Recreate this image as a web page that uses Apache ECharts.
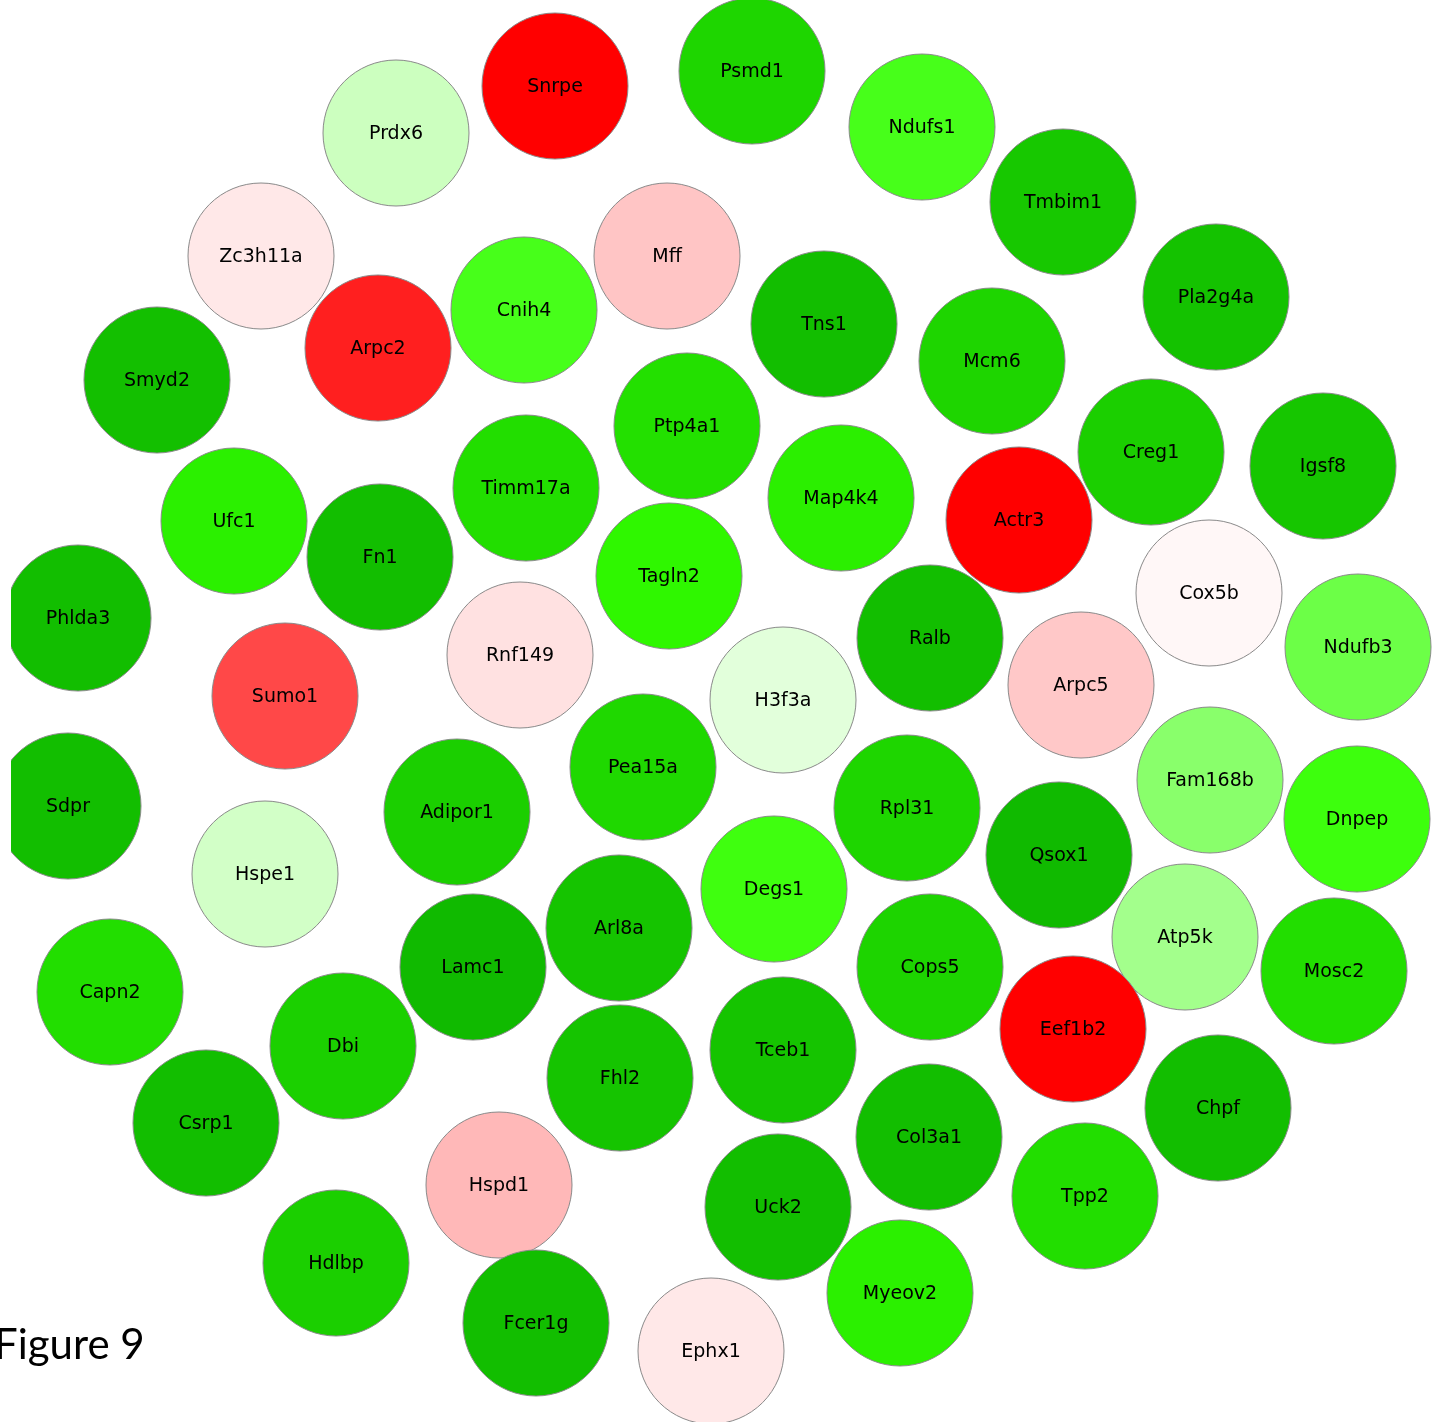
<!DOCTYPE html>
<html>
<head>
<meta charset="utf-8">
<title>Figure 9</title>
<script src="https://cdn.jsdelivr.net/npm/echarts@6/dist/echarts.min.js"></script>
<style>
  html, body { margin: 0; padding: 0; background: #fff; }
  #main { width: 1437px; height: 1422px; }
</style>
</head>
<body>
<div id="main"></div>
<script>
// gene nodes (layout position from the network picture + expression value, red < 0 < green)
var genes = ['Snrpe', 'Psmd1', 'Prdx6', 'Ndufs1', 'Tmbim1', 'Zc3h11a', 'Mff', 'Cnih4', 'Pla2g4a', 'Tns1',
  'Arpc2', 'Smyd2', 'Mcm6', 'Ptp4a1', 'Creg1', 'Igsf8', 'Timm17a', 'Map4k4', 'Ufc1', 'Actr3',
  'Fn1', 'Tagln2', 'Cox5b', 'Phlda3', 'Ndufb3', 'Ralb', 'Rnf149', 'Arpc5', 'Sumo1', 'H3f3a',
  'Pea15a', 'Fam168b', 'Sdpr', 'Rpl31', 'Adipor1', 'Dnpep', 'Qsox1', 'Hspe1', 'Degs1', 'Atp5k',
  'Arl8a', 'Lamc1', 'Cops5', 'Mosc2', 'Capn2', 'Eef1b2', 'Dbi', 'Tceb1', 'Fhl2', 'Chpf',
  'Csrp1', 'Col3a1', 'Hspd1', 'Tpp2', 'Uck2', 'Hdlbp', 'Myeov2', 'Fcer1g', 'Ephx1'];

var nodeX = [555, 752, 396, 922, 1063, 261, 667, 524, 1216, 824,
  378, 157, 992, 687, 1151, 1323, 526, 841, 234, 1019,
  380, 669, 1209, 78, 1358, 930, 520, 1081, 285, 783,
  643, 1210, 68, 907, 457, 1357, 1059, 265, 774, 1185,
  619, 473, 930, 1334, 110, 1073, 343, 783, 620, 1218,
  206, 929, 499, 1085, 778, 336, 900, 536, 711];

var nodeY = [86, 71, 133, 127, 202, 256, 256, 310, 297, 324,
  348, 380, 361, 426, 452, 466, 488, 498, 521, 520,
  557, 576, 593, 618, 647, 638, 655, 685, 696, 700,
  767, 780, 806, 808, 812, 819, 855, 874, 889, 937,
  928, 967, 967, 971, 992, 1029, 1046, 1050, 1078, 1108,
  1123, 1137, 1185, 1196, 1207, 1263, 1293, 1323, 1351];

var expr = [-2, 1.58, 0.25, 0.9, 1.77, -0.18, -0.46, 0.9, 1.86, 1.92,
  -1.76, 1.9, 1.59, 1.44, 1.68, 1.8, 1.47, 1.23, 1.21, -2,
  1.92, 1.11, -0.06, 1.92, 0.72, 1.92, -0.24, -0.43, -1.44, 0.14,
  1.55, 0.58, 1.92, 1.58, 1.68, 0.95, 1.97, 0.22, 0.94, 0.45,
  1.83, 1.97, 1.6, 1.46, 1.46, -2, 1.66, 1.83, 1.83, 1.92,
  1.92, 1.92, -0.56, 1.46, 1.92, 1.68, 1.21, 1.92, -0.18];

var chart = echarts.init(document.getElementById('main'));

var points = genes.map(function (g, i) {
  return { name: g, value: [nodeX[i], nodeY[i], expr[i]] };
});

var option = {
  backgroundColor: '#ffffff',
  animation: false,
  grid: { left: 11, right: 0, top: 0, bottom: 0 },
  xAxis: { type: 'value', min: 11, max: 1437, show: false },
  yAxis: { type: 'value', min: 0, max: 1422, inverse: true, show: false },
  visualMap: {
    show: false,
    type: 'continuous',
    dimension: 2,
    min: -2,
    max: 2,
    inRange: {
      color: ['#ff0000', '#ff8080', '#ffffff', '#33ff00', '#0fb800']
    }
  },
  graphic: [
    {
      // the network picture is cut at its left edge
      type: 'rect',
      left: 0,
      top: 520,
      z: 100,
      shape: { width: 11, height: 380 },
      style: { fill: '#ffffff' }
    },
    {
      type: 'text',
      left: -6,
      top: 1324,
      z: 101,
      style: {
        text: 'Figure 9',
        fontSize: 42,
        fontFamily: 'Lato',
        fill: '#000'
      }
    }
  ],
  series: [
    {
      type: 'scatter',
      symbol: 'circle',
      symbolSize: 146,
      data: points,
      itemStyle: {
        borderColor: '#8a8a8a',
        borderWidth: 1,
        opacity: 1
      },
      label: {
        show: true,
        position: 'inside',
        formatter: '{b}',
        color: '#000',
        fontSize: 19,
        fontFamily: 'DejaVu Sans',
        offset: [0, 1]
      },
      emphasis: { disabled: true }
    }
  ]
};

chart.setOption(option);
</script>
</body>
</html>
